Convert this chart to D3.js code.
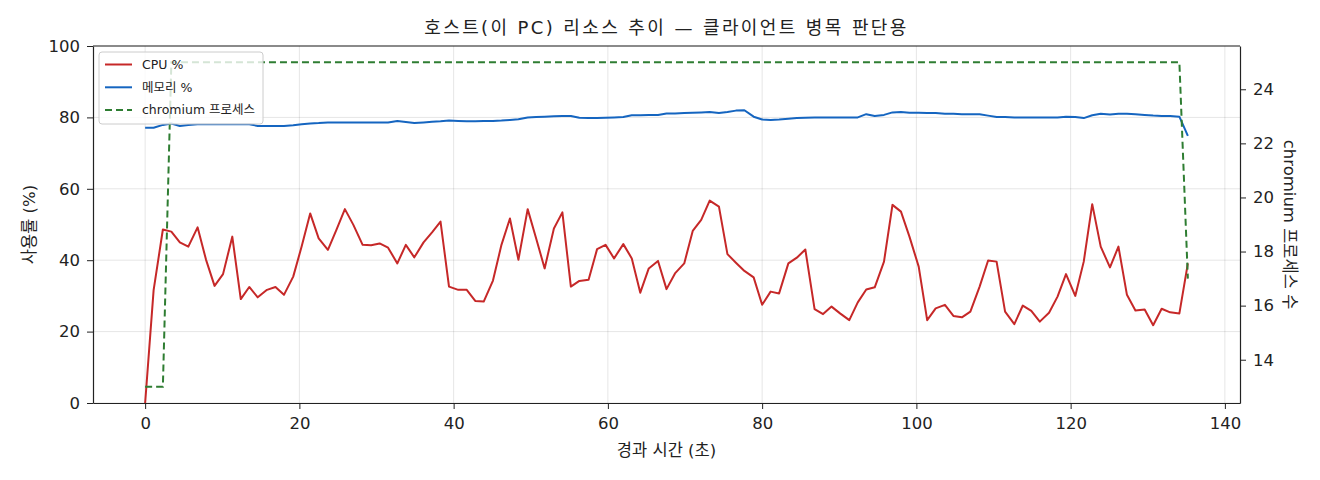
<!DOCTYPE html>
<html>
<head>
<meta charset="utf-8">
<script src="https://cdn.jsdelivr.net/npm/d3@7"></script>
<style>
  body { margin: 0; background: #fff; }
  svg text { font-family: "DejaVu Sans", "Noto Sans CJK KR", sans-serif; fill: #222; }
  .axis path, .axis line { stroke: #222; }
  .grid line { stroke: #000; stroke-opacity: 0.1; }
</style>
</head>
<body>
<div id="chart"></div>
<script>
// sampled host metrics, ~1.13 s per sample
const times = [0, 1.1, 2.3, 3.4, 4.5, 5.6, 6.8, 7.9, 9.0, 10.1, 11.3, 12.4, 13.5, 14.6, 15.8, 16.9, 18.0, 19.2, 20.3, 21.4,
  22.5, 23.7, 24.8, 25.9, 27.0, 28.2, 29.3, 30.4, 31.5, 32.7, 33.8, 34.9, 36.1, 37.2, 38.3, 39.4, 40.6, 41.7, 42.8, 43.9,
  45.1, 46.2, 47.3, 48.4, 49.6, 50.7, 51.8, 53.0, 54.1, 55.2, 56.3, 57.5, 58.6, 59.7, 60.8, 62.0, 63.1, 64.2, 65.3, 66.5,
  67.6, 68.7, 69.9, 71.0, 72.1, 73.2, 74.4, 75.5, 76.6, 77.7, 78.9, 80.0, 81.1, 82.2, 83.4, 84.5, 85.6, 86.8, 87.9, 89.0,
  90.1, 91.3, 92.4, 93.5, 94.6, 95.8, 96.9, 98.0, 99.1, 100.3, 101.4, 102.5, 103.7, 104.8, 105.9, 107.0, 108.2, 109.3, 110.4, 111.5,
  112.7, 113.8, 114.9, 116.0, 117.2, 118.3, 119.4, 120.6, 121.7, 122.8, 123.9, 125.1, 126.2, 127.3, 128.4, 129.6, 130.7, 131.8, 132.9, 134.1,
  135.2];

const cpu = [0, 31.6, 48.6, 48.0, 45.0, 43.8, 49.2, 40.1, 32.8, 36.1, 46.6, 29.1, 32.5, 29.6, 31.7, 32.5, 30.3, 35.4, 43.9, 53.1,
  46.1, 42.9, 48.5, 54.3, 49.9, 44.3, 44.2, 44.7, 43.5, 39.1, 44.3, 40.8, 45.0, 47.8, 50.8, 32.6, 31.7, 31.7, 28.6, 28.4,
  34.3, 44.3, 51.7, 40.1, 54.3, 46.1, 37.7, 48.9, 53.4, 32.6, 34.2, 34.5, 43.1, 44.3, 40.5, 44.5, 40.5, 30.9, 37.7, 39.8,
  31.9, 36.3, 39.1, 48.2, 51.3, 56.7, 55.0, 41.7, 39.3, 37.0, 35.2, 27.5, 31.2, 30.7, 39.1, 40.7, 43.0, 26.3, 24.9, 27.0,
  25.1, 23.2, 28.2, 31.8, 32.4, 39.6, 55.5, 53.6, 46.6, 38.2, 23.2, 26.5, 27.5, 24.4, 24.0, 25.6, 32.6, 39.9, 39.6, 25.6,
  22.1, 27.3, 25.8, 22.8, 25.3, 29.8, 36.1, 30.0, 39.6, 55.7, 43.8, 38.0, 43.8, 30.3, 25.9, 26.2, 21.8, 26.4, 25.4, 25.1,
  39.1];

const memory = [77.1, 77.1, 77.9, 78.3, 77.6, 77.9, 78.1, 78.1, 78.1, 78.1, 78.1, 78.1, 78.1, 77.6, 77.6, 77.6, 77.6, 77.8, 78.1, 78.3,
  78.4, 78.6, 78.6, 78.6, 78.6, 78.6, 78.6, 78.6, 78.6, 79.0, 78.7, 78.4, 78.6, 78.8, 78.9, 79.1, 79.0, 78.9, 78.9, 79.0,
  79.0, 79.1, 79.3, 79.5, 80.0, 80.1, 80.2, 80.3, 80.4, 80.4, 79.9, 79.8, 79.8, 79.9, 80.0, 80.1, 80.6, 80.6, 80.7, 80.7,
  81.1, 81.1, 81.2, 81.3, 81.4, 81.5, 81.2, 81.5, 81.9, 82.0, 80.2, 79.4, 79.3, 79.4, 79.6, 79.8, 79.9, 80.0, 80.0, 80.0,
  80.0, 80.0, 80.0, 80.9, 80.4, 80.7, 81.4, 81.5, 81.3, 81.3, 81.2, 81.2, 81.0, 81.0, 80.9, 80.9, 80.9, 80.5, 80.1, 80.1,
  80.0, 80.0, 80.0, 80.0, 80.0, 80.0, 80.2, 80.1, 79.8, 80.6, 81.0, 80.8, 81.0, 81.0, 80.9, 80.7, 80.5, 80.4, 80.4, 80.2,
  74.8];

const chromium = [13, 13, 13, 25, 25, 25, 25, 25, 25, 25, 25, 25, 25, 25, 25, 25, 25, 25, 25, 25,
  25, 25, 25, 25, 25, 25, 25, 25, 25, 25, 25, 25, 25, 25, 25, 25, 25, 25, 25, 25,
  25, 25, 25, 25, 25, 25, 25, 25, 25, 25, 25, 25, 25, 25, 25, 25, 25, 25, 25, 25,
  25, 25, 25, 25, 25, 25, 25, 25, 25, 25, 25, 25, 25, 25, 25, 25, 25, 25, 25, 25,
  25, 25, 25, 25, 25, 25, 25, 25, 25, 25, 25, 25, 25, 25, 25, 25, 25, 25, 25, 25,
  25, 25, 25, 25, 25, 25, 25, 25, 25, 25, 25, 25, 25, 25, 25, 25, 25, 25, 25, 25,
  17];

const xTicks = [0, 20, 40, 60, 80, 100, 120, 140];
const yTicks = [0, 20, 40, 60, 80, 100];
const y2Ticks = [14, 16, 18, 20, 22, 24];

const legendItems = [
  { label: "CPU %", color: "#c62828", dash: null },
  { label: "메모리 %", color: "#1565c0", dash: null },
  { label: "chromium 프로세스", color: "#2e7d32", dash: "7,4" }
];

const W = 1320, H = 480;
const margin = { top: 46, right: 80, bottom: 77, left: 93 };
const width = W - margin.left - margin.right,
  height = H - margin.top - margin.bottom;

const svg = d3.select("#chart").append("svg")
  .attr("width", W)
  .attr("height", H);

const g = svg.append("g")
  .attr("transform", `translate(${margin.left},${margin.top})`);

// matplotlib-style 5% padding on x and on the right axis
const tMax = d3.max(times);
const xScale = d3.scaleLinear()
  .domain([-0.05 * tMax, tMax * 1.05])
  .range([0, width]);

const yScale = d3.scaleLinear()
  .domain([0, 100])
  .range([height, 0]);

const [cMin, cMax] = d3.extent(chromium);
const cPad = (cMax - cMin) * 0.05;
const y2Scale = d3.scaleLinear()
  .domain([cMin - cPad, cMax + cPad])
  .range([height, 0]);

// grid
g.append("g")
  .attr("class", "grid")
  .selectAll("line")
  .data(xTicks.filter(d => xScale(d) <= width))
  .join("line")
  .attr("x1", d => xScale(d)).attr("x2", d => xScale(d))
  .attr("y1", 0).attr("y2", height);

g.append("g")
  .attr("class", "grid")
  .selectAll("line")
  .data(yTicks)
  .join("line")
  .attr("x1", 0).attr("x2", width)
  .attr("y1", d => yScale(d)).attr("y2", d => yScale(d));

const xAxis = d3.axisBottom(xScale).tickValues(xTicks).tickSize(6).tickPadding(8).tickSizeOuter(0);
const yAxis = d3.axisLeft(yScale).tickValues(yTicks).tickSize(6).tickPadding(7).tickSizeOuter(0);
const y2Axis = d3.axisRight(y2Scale).tickValues(y2Ticks).tickSize(6).tickPadding(7).tickSizeOuter(0);

g.append("g")
  .attr("class", "axis x-axis")
  .attr("transform", `translate(0,${height})`)
  .call(xAxis);

g.append("g")
  .attr("class", "axis y-axis")
  .call(yAxis);

g.append("g")
  .attr("class", "axis y2-axis")
  .attr("transform", `translate(${width},0)`)
  .call(y2Axis);

g.selectAll(".axis text").style("font-size", "16.5px");
g.selectAll(".axis path").attr("stroke-width", 1.2);

// top spine
g.append("line")
  .attr("x1", 0).attr("x2", width)
  .attr("y1", 0).attr("y2", 0)
  .attr("stroke", "#222").attr("stroke-width", 1.2);

// lines
const idx = d3.range(times.length);

const cpuLine = d3.line().x(i => xScale(times[i])).y(i => yScale(cpu[i]));
const memLine = d3.line().x(i => xScale(times[i])).y(i => yScale(memory[i]));
const chrLine = d3.line().x(i => xScale(times[i])).y(i => y2Scale(chromium[i]));

g.append("path")
  .datum(idx)
  .attr("fill", "none")
  .attr("stroke", legendItems[0].color)
  .attr("stroke-width", 2)
  .attr("stroke-linejoin", "round")
  .attr("d", cpuLine);

g.append("path")
  .datum(idx)
  .attr("fill", "none")
  .attr("stroke", legendItems[1].color)
  .attr("stroke-width", 2)
  .attr("stroke-linejoin", "round")
  .attr("d", memLine);

g.append("path")
  .datum(idx)
  .attr("fill", "none")
  .attr("stroke", legendItems[2].color)
  .attr("stroke-width", 2)
  .attr("stroke-dasharray", legendItems[2].dash)
  .attr("d", chrLine);

// labels
svg.append("text")
  .attr("x", margin.left + width / 2)
  .attr("y", 34)
  .attr("text-anchor", "middle")
  .style("font-size", "18px")
  .style("letter-spacing", "2.4px")
  .text("호스트(이 PC) 리소스 추이 — 클라이언트 병목 판단용");

svg.append("text")
  .attr("x", margin.left + width / 2)
  .attr("y", 456)
  .attr("text-anchor", "middle")
  .style("font-size", "16.5px")
  .text("경과 시간 (초)");

svg.append("text")
  .attr("transform", `translate(35,${margin.top + height / 2}) rotate(-90)`)
  .attr("text-anchor", "middle")
  .style("font-size", "16.5px")
  .text("사용률 (%)");

svg.append("text")
  .attr("transform", `translate(1284,${margin.top + height / 2}) rotate(90)`)
  .attr("text-anchor", "middle")
  .style("font-size", "16.5px")
  .text("chromium 프로세스 수");

// legend
const legend = g.append("g").attr("transform", "translate(6,6)");
legend.append("rect")
  .attr("width", 164).attr("height", 72)
  .attr("rx", 3)
  .attr("fill", "#fff").attr("fill-opacity", 0.8)
  .attr("stroke", "#ccc");

const li = legend.selectAll("g.item")
  .data(legendItems)
  .join("g")
  .attr("class", "item")
  .attr("transform", (d, i) => `translate(6,${12.5 + i * 22.8})`);

li.append("line")
  .attr("x1", 0).attr("x2", 27)
  .attr("stroke", d => d.color)
  .attr("stroke-width", 2)
  .attr("stroke-dasharray", d => d.dash);

li.append("text")
  .attr("x", 37)
  .attr("dy", "0.35em")
  .style("font-size", "12.5px")
  .text(d => d.label);
</script>
</body>
</html>
